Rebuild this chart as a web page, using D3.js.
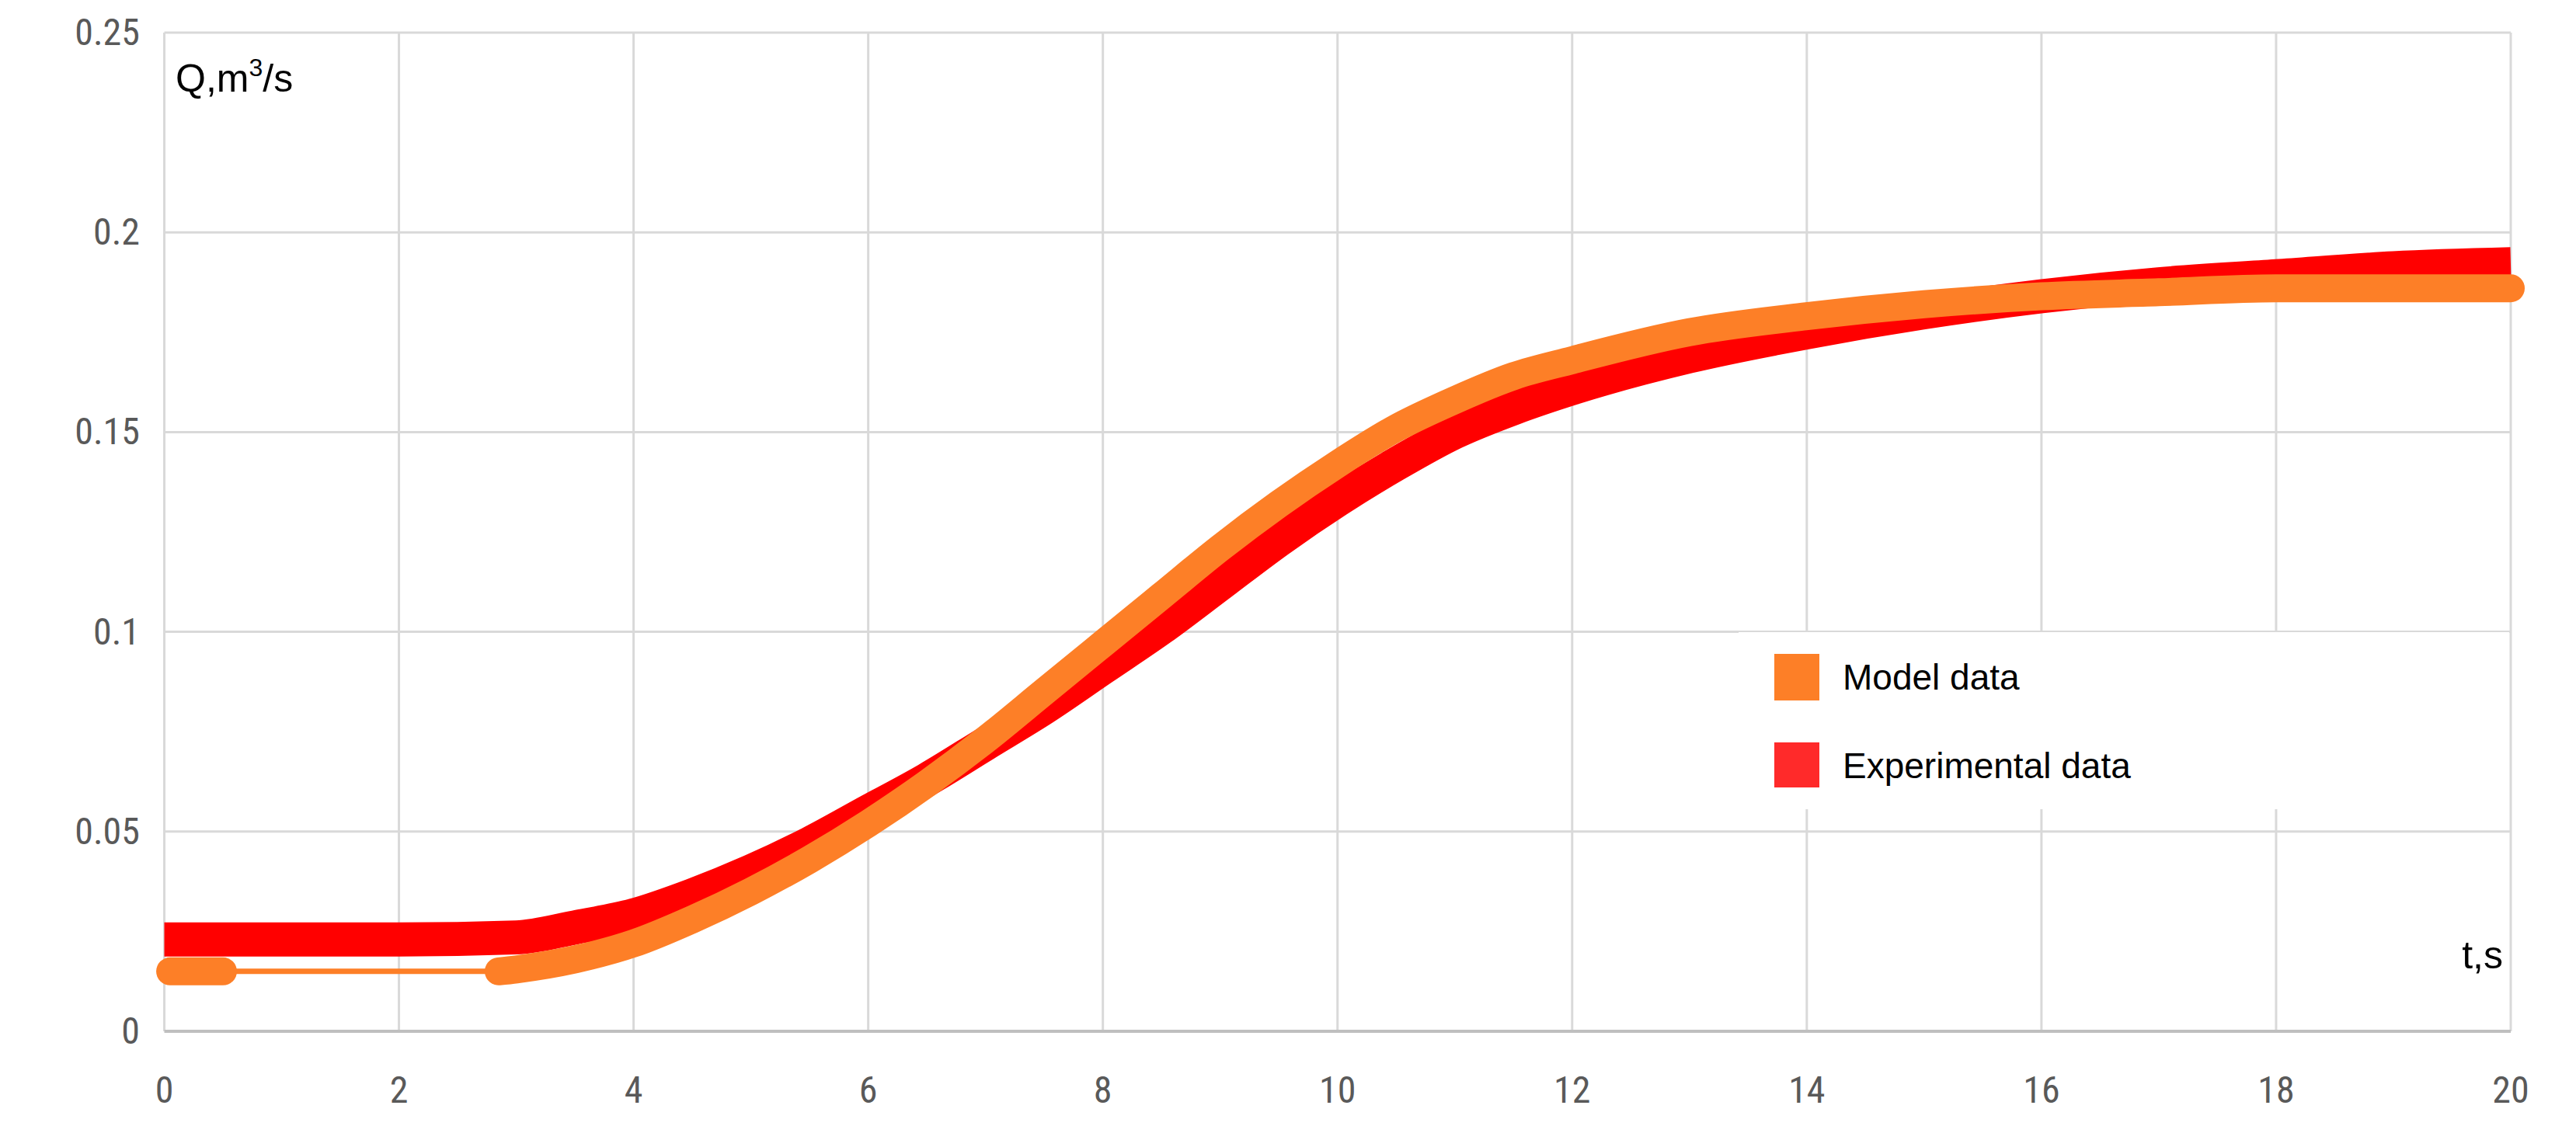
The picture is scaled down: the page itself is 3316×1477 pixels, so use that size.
<!DOCTYPE html>
<html><head><meta charset="utf-8">
<script src="https://cdn.jsdelivr.net/npm/d3@7"></script>
<style>body{margin:0;background:#fff}</style></head>
<body><svg id="c" width="3316" height="1477"></svg>
<script>
const xTicks=[0,2,4,6,8,10,12,14,16,18,20];
const yTicks=[0,0.05,0.1,0.15,0.2,0.25];
const yTickLabels=["0","0.05","0.1","0.15","0.2","0.25"];
const modelSeg1T=[0.05,0.5];
const modelSeg1Q=[0.015,0.015];
const modelT=[2.85,3,3.5,4,4.5,5,5.5,6,6.5,7,7.5,8,8.5,9,9.5,10,10.5,11,11.5,12,13,14,15,16,17,18,19,20];
const modelQ=[0.015,0.0155,0.018,0.022,0.028,0.035,0.043,0.052,0.062,0.073,0.085,0.097,0.109,0.121,0.132,0.142,0.151,0.158,0.164,0.168,0.175,0.179,0.182,0.184,0.185,0.186,0.186,0.186];
const linkT=[0.5,2.85];
const linkQ=[0.015,0.015];
const expT=[0,1,2,3,3.5,4,4.5,5,5.5,6,6.5,7,7.5,8,8.5,9,9.5,10,10.5,11,11.5,12,13,14,15,16,17,18,19,20];
const expQ=[0.023,0.023,0.023,0.0235,0.026,0.029,0.034,0.040,0.047,0.055,0.063,0.072,0.081,0.091,0.101,0.112,0.123,0.133,0.142,0.150,0.156,0.161,0.169,0.175,0.180,0.184,0.187,0.189,0.191,0.192];
const legendLabels=["Model data","Experimental data"];
const colors={model:"#fd7f27",exp:"#ff0000",expLegend:"#ff2a2a"};

const svg=d3.select("#c");
const x=d3.scaleLinear().domain([0,20]).range([211.5,3232]);
const y=d3.scaleLinear().domain([0,0.25]).range([1328,42]);
const grid=svg.append("g");
grid.selectAll("line.v").data(xTicks).join("line").attr("x1",d=>x(d)).attr("x2",d=>x(d)).attr("y1",y(0.25)).attr("y2",y(0)).attr("stroke","#d9d9d9").attr("stroke-width",3);
grid.selectAll("line.h").data(yTicks).join("line").attr("y1",d=>y(d)).attr("y2",d=>y(d)).attr("x1",x(0)).attr("x2",x(20)).attr("stroke",d=>d===0?"#bfbfbf":"#d9d9d9").attr("stroke-width",d=>d===0?4:3);
const tf="'Liberation Sans Narrow','Roboto Condensed','Open Sans',sans-serif";
svg.append("g").selectAll("text").data(yTicks).join("text").attr("x",180).attr("y",d=>y(d)+16).attr("text-anchor","end").attr("font-family",tf).attr("font-size",48).attr("fill","#595959").text((d,i)=>yTickLabels[i]);
svg.append("g").selectAll("text").data(xTicks).join("text").attr("x",d=>x(d)).attr("y",1420).attr("text-anchor","middle").attr("font-family",tf).attr("font-size",48).attr("fill","#595959").text(d=>d);

const line=d3.line().x(d=>x(d[0])).y(d=>y(d[1])).curve(d3.curveMonotoneX);
svg.append("path").datum(expT.map((t,i)=>[t,expQ[i]])).attr("d",line).attr("fill","none").attr("stroke",colors.exp).attr("stroke-width",44).attr("stroke-linecap","butt");
svg.append("path").datum(linkT.map((t,i)=>[t,linkQ[i]])).attr("d",line).attr("fill","none").attr("stroke",colors.model).attr("stroke-width",7);
svg.append("path").datum(modelSeg1T.map((t,i)=>[t,modelSeg1Q[i]])).attr("d",line).attr("fill","none").attr("stroke",colors.model).attr("stroke-width",36).attr("stroke-linecap","round");
svg.append("path").datum(modelT.map((t,i)=>[t,modelQ[i]])).attr("d",line).attr("fill","none").attr("stroke",colors.model).attr("stroke-width",36).attr("stroke-linecap","round");

const af="'Liberation Sans',Arial,sans-serif";
const ql=svg.append("text").attr("x",226).attr("y",118).attr("font-family",af).attr("font-size",50).attr("fill","#000");
ql.append("tspan").text("Q,m");
ql.append("tspan").attr("font-size",32).attr("dy",-20).text("3");
ql.append("tspan").attr("dy",20).text("/s");
svg.append("text").attr("x",3222).attr("y",1247).attr("text-anchor","end").attr("font-family",af).attr("font-size",50).attr("fill","#000").text("t,s");

const lg=svg.append("g");
lg.append("rect").attr("x",2238).attr("y",814).attr("width",992).attr("height",228).attr("fill","#fff");
lg.selectAll("rect.k").data(legendLabels).join("rect").attr("x",2284).attr("y",(d,i)=>842+i*114).attr("width",58).attr("height",(d,i)=>i?58:60).attr("fill",(d,i)=>i?colors.expLegend:colors.model);
lg.selectAll("text").data(legendLabels).join("text").attr("x",2372).attr("y",(d,i)=>888+i*114).attr("font-family",af).attr("font-size",46).attr("fill","#000").text(d=>d);
</script></body></html>
